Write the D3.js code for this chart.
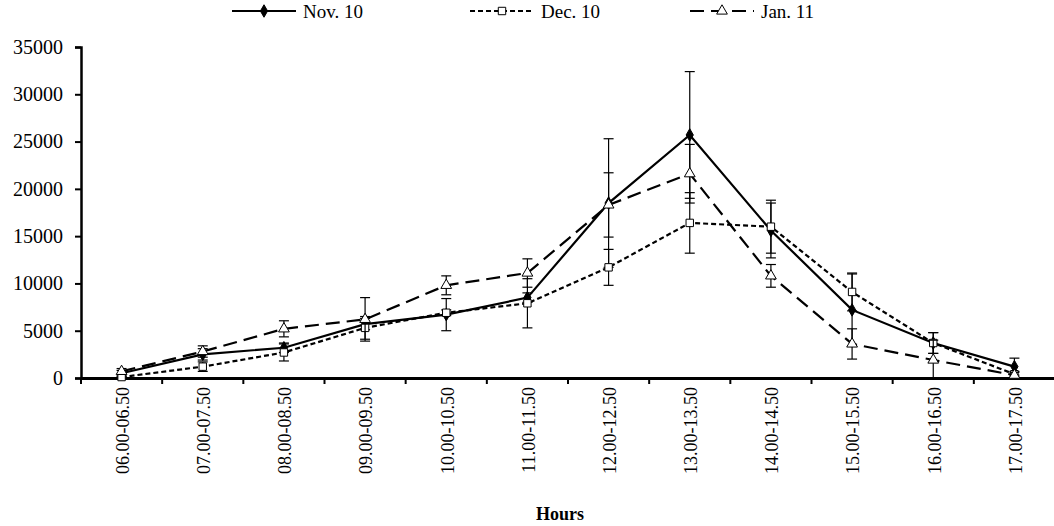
<!DOCTYPE html>
<html>
<head>
<meta charset="utf-8">
<script src="https://cdn.jsdelivr.net/npm/d3@7"></script>
<style>
  body { margin: 0; background: #fff; }
  text { font-family: "Liberation Serif", "Times New Roman", serif; fill: #000; }
</style>
</head>
<body>
<div id="graph"></div>
<script>
const hours = ["06.00-06.50", "07.00-07.50", "08.00-08.50", "09.00-09.50", "10.00-10.50", "11.00-11.50",
  "12.00-12.50", "13.00-13.50", "14.00-14.50", "15.00-15.50", "16.00-16.50", "17.00-17.50"];
const nov10 = [500, 2500, 3200, 5700, 6700, 8500, 18500, 25700, 15600, 7200, 3700, 1200];
const nov10_err = [300, 600, 500, 600, 1700, 500, 6800, 6700, 2900, 3800, 1100, 900];
const dec10 = [100, 1200, 2700, 5300, 6900, 7900, 11700, 16400, 16000, 9100, 3700, 400];
const dec10_err = [100, 500, 900, 1200, 300, 2600, 1900, 3200, 2800, 2000, 1100, 300];
const jan11 = [700, 2800, 5200, 6200, 9800, 11100, 18300, 21600, 10800, 3600, 1900, 300];
const jan11_err = [300, 600, 850, 2300, 1000, 1500, 3400, 3100, 1200, 1600, 2100, 300];
const y_ticks = [0, 5000, 10000, 15000, 20000, 25000, 30000, 35000];

const width = 1054;
const height = 526;
const plot_left = 81, plot_right = 1055, plot_top = 47, plot_bottom = 378;

const series = [
  { name: "Nov. 10", values: nov10, err: nov10_err, dash: null, symbol: d3.symbolDiamond, size: 45, fill: "#000", legend_x: 232 },
  { name: "Dec. 10", values: dec10, err: dec10_err, dash: "5,3", symbol: d3.symbolSquare, size: 55, fill: "#fff", legend_x: 470 },
  { name: "Jan. 11", values: jan11, err: jan11_err, dash: "14,7", symbol: d3.symbolTriangle, size: 50, fill: "#fff", legend_x: 690 }
];

const svg = d3.select('#graph').append('svg')
  .attr('width', width)
  .attr('height', height);

const x = d3.scaleBand().domain(hours).range([plot_left, plot_right]).padding(0);
const y = d3.scaleLinear().domain([0, 35000]).range([plot_bottom, plot_top]);
const cx = d => x(d) + x.bandwidth() / 2;

// y axis
const yAxis = svg.append('g')
  .attr('transform', `translate(${plot_left},0)`)
  .call(d3.axisLeft(y).tickValues(y_ticks).tickSize(6).tickPadding(12).tickFormat(d3.format('d')));
yAxis.select('.domain').attr('stroke-width', 2.5);
yAxis.selectAll('.tick line').attr('stroke-width', 2);
yAxis.selectAll('text').style('font-size', '20px').attr('font-family', null);

// x axis: labels rotated, ticks at band boundaries
const xAxis = svg.append('g')
  .attr('transform', `translate(0,${plot_bottom})`)
  .call(d3.axisBottom(x).tickSize(0).tickFormat(''));
xAxis.select('.domain').attr('stroke-width', 3);
const bounds = hours.map(d => x(d)).concat([x.range()[1]]);
xAxis.selectAll('.bound')
  .data(bounds)
  .join('line')
  .attr('x1', d => d).attr('x2', d => d)
  .attr('y1', 0).attr('y2', 6)
  .attr('stroke', '#000').attr('stroke-width', 2);

svg.append('g').selectAll('text')
  .data(hours)
  .join('text')
  .attr('transform', d => `translate(${cx(d) + 1},${plot_bottom + 9}) rotate(-90)`)
  .attr('text-anchor', 'end')
  .attr('dy', '0.35em')
  .style('font-size', '18px')
  .text(d => d);

svg.append('text')
  .attr('x', (plot_left + plot_right) / 2 - 8)
  .attr('y', 520)
  .attr('text-anchor', 'middle')
  .style('font-size', '18px')
  .style('font-weight', 'bold')
  .text('Hours');

// series
for (const s of series) {
  const g = svg.append('g');
  const pts = hours.map((h, i) => ({ h: h, v: s.values[i], e: s.err[i] }));

  // error bars
  const eb = g.selectAll('.eb').data(pts).join('g');
  eb.append('line')
    .attr('x1', d => cx(d.h)).attr('x2', d => cx(d.h))
    .attr('y1', d => y(d.v + d.e)).attr('y2', d => y(Math.max(0, d.v - d.e)))
    .attr('stroke', '#000').attr('stroke-width', 1.2);
  eb.append('line')
    .attr('x1', d => cx(d.h) - 5).attr('x2', d => cx(d.h) + 5)
    .attr('y1', d => y(d.v + d.e)).attr('y2', d => y(d.v + d.e))
    .attr('stroke', '#000').attr('stroke-width', 1.2);
  eb.filter(d => d.v - d.e > 0).append('line')
    .attr('x1', d => cx(d.h) - 5).attr('x2', d => cx(d.h) + 5)
    .attr('y1', d => y(d.v - d.e)).attr('y2', d => y(d.v - d.e))
    .attr('stroke', '#000').attr('stroke-width', 1.2);

  g.append('path')
    .datum(pts)
    .attr('fill', 'none')
    .attr('stroke', '#000')
    .attr('stroke-width', 2.2)
    .attr('stroke-dasharray', s.dash)
    .attr('d', d3.line().x(d => cx(d.h)).y(d => y(d.v)));

  g.selectAll('.mk').data(pts).join('path')
    .attr('transform', d => `translate(${cx(d.h)},${y(d.v)})`)
    .attr('d', d3.symbol(s.symbol, s.size))
    .attr('fill', s.fill)
    .attr('stroke', '#000')
    .attr('stroke-width', 1);

  // legend entry
  const lg = svg.append('g').attr('transform', `translate(${s.legend_x},11)`);
  lg.append('line')
    .attr('x1', 0).attr('x2', 64)
    .attr('stroke', '#000').attr('stroke-width', 2.2)
    .attr('stroke-dasharray', s.dash);
  lg.append('path')
    .attr('transform', 'translate(32,0)')
    .attr('d', d3.symbol(s.symbol, s.size))
    .attr('fill', s.fill).attr('stroke', '#000').attr('stroke-width', 1);
  lg.append('text')
    .attr('x', 71).attr('y', 0).attr('dy', '0.35em')
    .style('font-size', '19px')
    .text(s.name);
}
</script>
</body>
</html>
